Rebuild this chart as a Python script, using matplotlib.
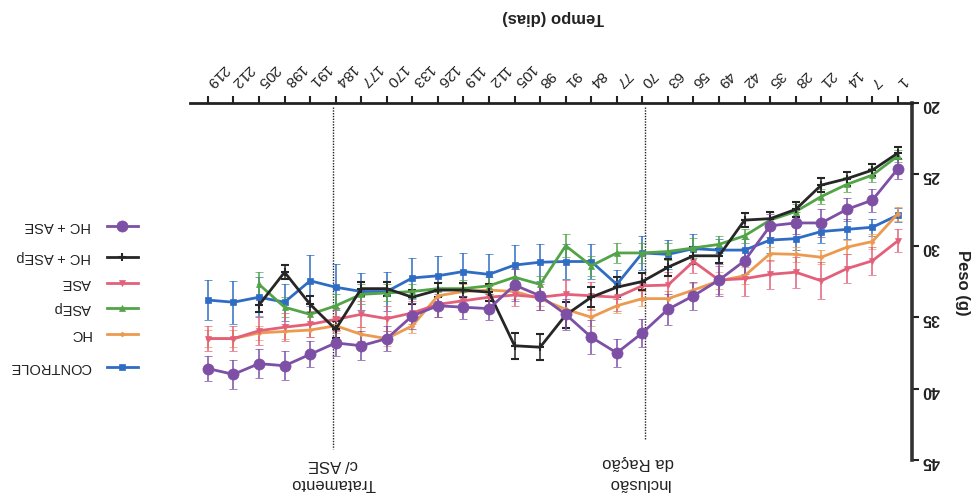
import numpy as np
import matplotlib
matplotlib.use("Agg")
import matplotlib.pyplot as plt
from matplotlib.lines import Line2D

plt.rcParams['font.family'] = ['Liberation Sans', 'DejaVu Sans']

days = ["1", "7", "14", "21", "28", "35", "42", "49", "56", "63", "70", "77", "84", "91",
        "98", "105", "112", "119", "126", "133", "170", "177", "184", "191", "198", "205", "212", "219"]

controle = [27.85, 28.7, 28.85, 29.0, 29.5, 29.6, 30.3, 30.3, 30.2, 30.6, 30.5, 32.7, 31.1, 31.1,
            31.15, 31.35, 32.0, 31.8, 32.1, 32.25, 33.2, 33.2, 32.9, 32.45, 33.95, 33.6, 33.95, 33.8]
controle_err = [0.5, 0.6, 0.7, 0.8, 0.8, 0.9, 0.8, 0.8, 1.0, 1.0, 1.2, 1.0, 1.2, 1.2,
                1.3, 1.4, 1.4, 1.3, 1.4, 1.4, 1.4, 1.3, 1.6, 1.8, 1.3, 1.4, 1.5, 1.4]

hc = [27.75, 29.7, 30.1, 30.8, 30.6, 30.55, 32.1, 32.45, 33.1, 33.7, 33.7, 34.2, 35.0, 34.45,
      33.7, 33.2, 33.1, 33.2, 33.5, 35.6, 36.5, 36.2, 35.6, 35.9, 36.0, 36.1, 36.5, 36.5]
hc_err = [0.5, 0.5, 0.5, 0.5, 0.5, 0.5, 0.6, 0.6, 0.5, 0.5, 0.5, 0.5, 0.6, 0.5,
          0.5, 0.5, 0.5, 0.5, 0.5, 0.5, 0.5, 0.5, 0.5, 0.5, 0.5, 0.5, 0.6, 0.6]

asep = [23.7, 25.05, 25.7, 26.55, 27.6, 28.2, 29.3, 29.9, 30.15, 30.4, 30.5, 30.5, 31.4, 30.0,
        32.7, 32.2, 32.8, 33.0, 33.0, 33.2, 33.3, 33.4, 34.2, 34.8, 34.3, 32.7, np.nan, np.nan]
asep_err = [0.4, 0.5, 0.5, 0.5, 0.5, 0.6, 0.5, 0.6, 0.7, 0.6, 0.7, 0.7, 0.7, 0.8,
            0.6, 0.6, 0.6, 0.6, 0.5, 0.5, 0.6, 0.7, 0.8, 0.7, 0.7, 0.9, np.nan, np.nan]

ase = [29.65, 31.05, 31.6, 32.45, 31.85, 32.0, 32.3, 32.4, 31.1, 32.75, 32.8, 33.6, 33.5, 33.4,
       33.6, 33.45, 33.6, 33.85, 34.1, 34.7, 35.1, 34.8, 35.15, 35.5, 35.7, 35.95, 36.5, 36.5]
ase_err = [0.8, 1.0, 1.0, 1.3, 1.1, 1.0, 1.2, 1.0, 0.8, 0.9, 1.0, 1.0, 1.0, 1.0,
           0.9, 0.8, 0.8, 0.8, 0.9, 0.8, 0.9, 0.9, 0.8, 0.9, 1.0, 1.0, 0.9, 0.9]

hc_asep = [23.5, 24.7, 25.3, 25.75, 27.45, 28.1, 28.2, 30.7, 30.7, 31.5, 32.5, 32.9, 33.6, 34.85,
           37.1, 37.0, 33.25, 33.1, 33.1, 33.6, 33.0, 33.0, 35.85, 34.1, 31.85, 34.15, np.nan, np.nan]
hc_asep_err = [0.4, 0.4, 0.5, 0.5, 0.5, 0.5, 0.5, 0.5, 0.6, 0.6, 0.6, 0.7, 0.7, 0.9,
               0.9, 0.9, 0.6, 0.5, 0.5, 0.5, 0.5, 0.5, 0.6, 0.6, 0.5, 0.5, np.nan, np.nan]

hc_ase = [24.6, 26.8, 27.45, 28.4, 28.4, 28.6, 31.05, 32.4, 33.5, 34.45, 36.1, 37.5, 36.4, 34.8,
          33.5, 32.75, 34.4, 34.3, 34.2, 34.9, 36.5, 37.0, 36.8, 37.6, 38.4, 38.25, 39.0, 38.6]
hc_ase_err = [0.7, 0.8, 0.8, 1.0, 0.8, 0.8, 0.9, 1.1, 1.0, 1.1, 1.0, 1.0, 1.2, 1.1,
              1.0, 1.1, 0.8, 0.8, 0.8, 0.9, 0.9, 1.0, 0.9, 0.9, 1.0, 1.0, 1.0, 0.9]

labels = ["CONTROLE", "HC", "ASEp", "ASE", "HC + ASEp", "HC + ASE"]
values = [controle, hc, asep, ase, hc_asep, hc_ase]
errors = [controle_err, hc_err, asep_err, ase_err, hc_asep_err, hc_ase_err]
colors = ["#2f6cc4", "#ec9a50", "#52a447", "#e3607a", "#262626", "#7d4fa5"]
markers = ["s", "D", "^", "v", "+", "o"]
msizes = [4, 2.5, 5, 5, 6, 8]

events = ["Inclusão\nda Ração", "Tratamento\nc/ ASE"]
event_pos = [9.9, 22.1]

W, H = 979, 499
fig = plt.figure(figsize=(W / 100, H / 100), dpi=100)
fig.patch.set_facecolor("white")
ax = fig.add_axes([190 / W, 1 - 460 / H, (912 - 190) / W, (460 - 103) / H])

x = np.arange(len(days))
for v, e, c, m, ms in zip(values, errors, colors, markers, msizes):
    ax.errorbar(x, v, yerr=e, color=c, marker=m, markersize=ms, lw=2, elinewidth=1.1,
                capsize=3, capthick=1.1, markeredgewidth=1.5 if m == "+" else 0.5, zorder=3)

ax.set_xlim(27.7, -0.55)
ax.set_ylim(45, 20)
ax.set_xticks(x)
ax.set_xticklabels(days)
ax.set_yticks([20, 25, 30, 35, 40, 45])
ax.set_yticklabels(["20", "25", "30", "35", "40", "45"])
ax.xaxis.tick_top()
ax.yaxis.tick_right()
for s in ["left", "bottom"]:
    ax.spines[s].set_visible(False)
ax.spines["top"].set_linewidth(2)
ax.spines["right"].set_linewidth(2.6)
ax.spines["top"].set_color("#222222")
ax.spines["right"].set_color("#333333")
ax.tick_params(axis="x", length=5, width=1.5, pad=8, labelsize=11, colors="#222222")
ax.tick_params(axis="y", length=5, width=1.5, pad=2, labelsize=11.5, colors="#222222")
for lbl in ax.get_xticklabels():
    lbl.set_rotation(225)
    lbl.set_rotation_mode("anchor")
    lbl.set_ha("right")
    lbl.set_va("center")
for lbl in ax.get_yticklabels():
    lbl.set_rotation(180)
    lbl.set_fontweight("bold")

# event lines and labels
ends = [43.6, 44.2]
for p, t, y_end in zip(event_pos, events, ends):
    ax.plot([p, p], [20.3, y_end], color="#222222", lw=1, ls=(0, (1, 1)), zorder=2)
ax.text(event_pos[0] + 0.25, 45.9, events[0], rotation=180, ha="center", va="center",
        multialignment="center", fontsize=12, linespacing=1.5, clip_on=False, color="#222222")
ax.text(event_pos[1], 46.0, events[1], rotation=180, ha="center", va="center",
        multialignment="center", fontsize=12, linespacing=1.3, clip_on=False, color="#222222")

# axis titles (upside down, as in the reference)
fig.text(553 / W, 1 - 18 / H, "Tempo (dias)", rotation=180, ha="center", va="center",
         fontsize=12, fontweight="bold", color="#222222")
fig.text(963 / W, 1 - 283 / H, "Peso (g)", rotation=270, ha="center", va="center",
         fontsize=12, fontweight="bold", color="#222222")

# legend (upside down order)
leg_y = [367, 334, 308, 283, 257, 226]
for lab, c, m, ms, yy in zip(labels, colors, markers, msizes, leg_y):
    yf = 1 - yy / H
    fig.add_artist(Line2D([107 / W, 138 / W], [yf, yf], transform=fig.transFigure, color=c,
                          lw=2, marker=None))
    fig.add_artist(Line2D([122.5 / W], [yf], transform=fig.transFigure, color=c, marker=m,
                          markersize=ms, markeredgewidth=1.5 if m == "+" else 0.5, lw=0))
    fig.text(91 / W, yf, lab, rotation=180, ha="right", va="center", fontsize=10.5,
             color="#222222")

fig.savefig("out.png", dpi=100)
